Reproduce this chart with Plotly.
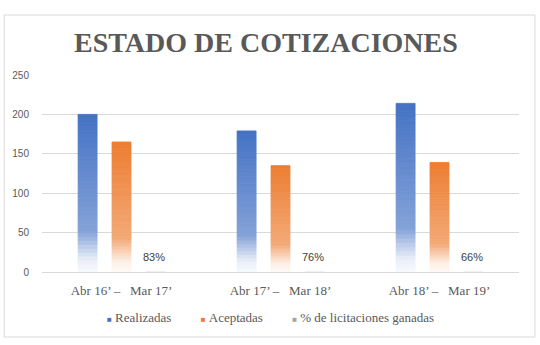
import numpy as np
import plotly.graph_objects as go

categories = ["Abr 16’ –\u00a0\u00a0 Mar 17’", "Abr 17’ –\u00a0\u00a0 Mar 18’", "Abr 18’ –\u00a0\u00a0 Mar 19’"]
realizadas = [200, 179, 214]
aceptadas = [165, 135, 139]
pct_ganadas = [0.83, 0.76, 0.66]

series_names = ["Realizadas", "Aceptadas", "% de licitaciones ganadas"]
BLUE = (68, 114, 196)
ORANGE = (237, 125, 49)
GRAY = (165, 165, 165)

N_SEG = 40


def shade(rgb, f):
    w = float(np.interp(f, [0.0, 0.08, 0.17, 0.26, 1.0], [0.96, 0.88, 0.62, 0.34, 0.0]))
    r, g, b = [int(round(c + (255 - c) * w)) for c in rgb]
    return f"rgb({r},{g},{b})"


fig = go.Figure()


def add_gradient_bars(values, rgb, group):
    vals = np.array(values, dtype=float)
    for k in range(N_SEG):
        f_mid = (k + 0.5) / N_SEG
        c = shade(rgb, f_mid)
        fig.add_trace(go.Bar(
            x=categories, y=vals / N_SEG, base=vals * k / N_SEG,
            offsetgroup=group, marker=dict(color=c, line=dict(width=0.8, color=c)),
            showlegend=False, hoverinfo="skip"))


add_gradient_bars(realizadas, BLUE, "a")
add_gradient_bars(aceptadas, ORANGE, "b")

fig.add_trace(go.Bar(
    x=categories, y=pct_ganadas, offsetgroup="c",
    marker=dict(color="rgba(165,165,165,0.3)", line=dict(width=0)),
    showlegend=False, hoverinfo="skip"))

for cat, v in zip(categories, pct_ganadas):
    fig.add_annotation(x=cat, y=v, text=f"{round(v * 100)}%", showarrow=False,
                       xshift=32, yshift=14, yanchor="middle",
                       font=dict(family="Liberation Sans", size=11, color="#404040"))

# chart border (paper coordinates derived from plot area)
L, R, T, B = 40, 21, 75, 73
W, H = 540, 345
pw, ph = W - L - R, H - T - B


def px(xp):
    return (xp - L) / pw


def py(yp):
    return (H - B - yp) / ph


fig.add_shape(type="rect", xref="paper", yref="paper",
              x0=px(2), x1=px(535), y0=py(337), y1=py(15),
              line=dict(color="#D9D9D9", width=1), fillcolor="rgba(0,0,0,0)", layer="below")

fig.add_annotation(text="<b>ESTADO DE COTIZACIONES</b>", xref="paper", yref="paper",
                   x=px(265), y=py(42), xanchor="center", yanchor="middle", showarrow=False,
                   font=dict(family="Liberation Serif", size=28, color="#595959"))

sp = "\u00a0" * 9
legend_parts = []
for name, rgb in zip(series_names, [BLUE, ORANGE, GRAY]):
    legend_parts.append(f"<span style='font-size:8px;color:rgb{rgb}'>■</span>\u00a0{name}")
legend_text = sp.join(legend_parts)
fig.add_annotation(text=legend_text, xref="paper", yref="paper",
                   x=px(269), y=py(317), xanchor="center", yanchor="middle", showarrow=False,
                   font=dict(family="Liberation Serif", size=13, color="#595959"))

fig.add_annotation(text="Fuente: Información de la empresa", xref="paper", yref="paper",
                   x=px(0), y=py(350), xanchor="left", yanchor="middle", showarrow=False,
                   font=dict(family="Liberation Serif", size=12, color="#000000"))

fig.update_layout(
    width=W, height=H,
    margin=dict(l=L, r=R, t=T, b=B),
    paper_bgcolor="white", plot_bgcolor="white",
    barmode="group", bargap=0.36, bargroupgap=0.44,
    showlegend=False,
    xaxis=dict(type="category", showgrid=False, showline=False, zeroline=False,
               tickfont=dict(family="Liberation Serif", size=13, color="#595959"),
               ticks="outside", ticklen=6, tickcolor="rgba(0,0,0,0)"),
    yaxis=dict(range=[0, 250], dtick=50, showgrid=True, gridcolor="#D9D9D9", gridwidth=1,
               zeroline=True, zerolinecolor="#D9D9D9", zerolinewidth=1, showline=False,
               tickfont=dict(family="Liberation Sans", size=10, color="#595959"),
               ticks="outside", ticklen=10, tickcolor="rgba(0,0,0,0)"),
)

fig.write_html("out.html")
